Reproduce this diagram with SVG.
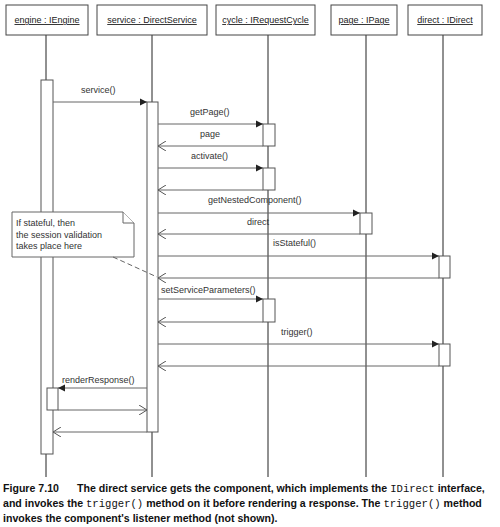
<svg xmlns="http://www.w3.org/2000/svg" width="500" height="527" viewBox="0 0 500 527">
<defs>
<style>
.hdr{fill:#fff;stroke:#444;stroke-width:1}
.ht{font-family:"Liberation Sans",Arial,sans-serif;font-size:9px;fill:#222;text-decoration:underline;text-anchor:middle}
.life{stroke:#222;stroke-width:1}
.act{fill:#fff;stroke:#555;stroke-width:1}
.msg{stroke:#666;stroke-width:1;fill:none}
.lbl{font-family:"Liberation Sans",Arial,sans-serif;font-size:9px;fill:#333}
.note{fill:#fff;stroke:#666;stroke-width:1}
.cap{font-family:"Liberation Sans",Arial,sans-serif;font-size:10.6px;font-weight:bold;fill:#111}
.mono{font-family:"Liberation Mono","Courier New",monospace;font-weight:normal}
</style>
<marker id="fill" markerUnits="userSpaceOnUse" markerWidth="8" markerHeight="8" refX="7" refY="4" orient="auto">
<path d="M0,0.5 L7,4 L0,7.5 Z" fill="#222"/>
</marker>
<marker id="open" markerUnits="userSpaceOnUse" markerWidth="9" markerHeight="10" refX="8" refY="5" orient="auto">
<path d="M0,0 L8,5 L0,10" fill="none" stroke="#555" stroke-width="1"/>
</marker>
</defs>
<rect width="500" height="527" fill="#fff"/>

<g id="lifelines">
<line class="life" x1="46" y1="35" x2="46" y2="477"/>
<line class="life" x1="152" y1="35" x2="152" y2="477" stroke="#666"/>
<line class="life" x1="268" y1="35" x2="268" y2="477"/>
<line class="life" x1="366" y1="35" x2="366" y2="477"/>
<line class="life" x1="443" y1="35" x2="443" y2="477"/>
</g>

<g id="engine">
<rect class="hdr" x="6" y="5" width="82" height="30"/>
<text class="ht" x="47" y="23">engine : IEngine</text>
<rect class="act" x="41" y="80" width="12" height="374"/>
<rect class="act" x="47" y="388" width="11" height="22"/>
</g>
<g id="service">
<rect class="hdr" x="97" y="5" width="110" height="30"/>
<text class="ht" x="152" y="23">service : DirectService</text>
<rect class="act" x="147" y="102" width="11" height="330"/>
</g>
<g id="cycle">
<rect class="hdr" x="216" y="5" width="99" height="30"/>
<text class="ht" x="265.5" y="23">cycle : IRequestCycle</text>
<rect class="act" x="263" y="124" width="12" height="22"/>
<rect class="act" x="263" y="168" width="12" height="22"/>
<rect class="act" x="263" y="299" width="12" height="23"/>
</g>
<g id="page">
<rect class="hdr" x="331" y="5" width="66" height="30"/>
<text class="ht" x="364" y="23">page : IPage</text>
<rect class="act" x="360" y="213" width="12" height="21"/>
</g>
<g id="direct">
<rect class="hdr" x="408" y="5" width="74" height="30"/>
<text class="ht" x="445" y="23">direct : IDirect</text>
<rect class="act" x="439" y="256" width="11" height="22"/>
<rect class="act" x="439" y="344" width="11" height="22"/>
</g>

<g id="note">
<path class="note" d="M12,212 H123 L134,223 V257 H12 Z"/>
<path class="note" d="M123,212 V223 H134" fill="none"/>
<text class="lbl" x="16" y="226">If stateful, then</text>
<text class="lbl" x="16" y="238">the session validation</text>
<text class="lbl" x="16" y="249">takes place here</text>
</g>

<g id="connectors">
<line class="msg" x1="53" y1="102" x2="147" y2="102" marker-end="url(#fill)"/>
<line class="msg" x1="158" y1="124" x2="263" y2="124" marker-end="url(#fill)"/>
<line class="msg" x1="263" y1="146" x2="158" y2="146" marker-end="url(#open)"/>
<line class="msg" x1="158" y1="168" x2="263" y2="168" marker-end="url(#fill)"/>
<line class="msg" x1="263" y1="190" x2="158" y2="190" marker-end="url(#open)"/>
<line class="msg" x1="158" y1="213" x2="360" y2="213" marker-end="url(#fill)"/>
<line class="msg" x1="360" y1="234" x2="158" y2="234" marker-end="url(#open)"/>
<line class="msg" x1="158" y1="256" x2="439" y2="256" marker-end="url(#fill)"/>
<line class="msg" x1="439" y1="278" x2="158" y2="278" marker-end="url(#open)"/>
<line class="msg" x1="158" y1="299" x2="263" y2="299" marker-end="url(#fill)"/>
<line class="msg" x1="263" y1="322" x2="158" y2="322" marker-end="url(#open)"/>
<line class="msg" x1="158" y1="344" x2="439" y2="344" marker-end="url(#fill)"/>
<line class="msg" x1="439" y1="366" x2="158" y2="366" marker-end="url(#open)"/>
<line class="msg" x1="147" y1="388" x2="58" y2="388" marker-end="url(#fill)"/>
<line class="msg" x1="58" y1="410" x2="147" y2="410" marker-end="url(#open)"/>
<line class="msg" x1="147" y1="432" x2="53" y2="432" marker-end="url(#open)"/>
<line class="msg" x1="113" y1="257" x2="157" y2="277" stroke-dasharray="5,3"/>
</g>

<g id="labels">
<text class="lbl" x="81" y="93">service()</text>
<text class="lbl" x="190" y="115">getPage()</text>
<text class="lbl" x="200" y="137">page</text>
<text class="lbl" x="191" y="159">activate()</text>
<text class="lbl" x="208" y="203">getNestedComponent()</text>
<text class="lbl" x="247" y="225">direct</text>
<text class="lbl" x="273" y="246">isStateful()</text>
<text class="lbl" x="161" y="293">setServiceParameters()</text>
<text class="lbl" x="281" y="335">trigger()</text>
<text class="lbl" x="62" y="383">renderResponse()</text>
</g>

<g id="caption">
<text class="cap" x="3" y="492">Figure 7.10<tspan x="77">The direct service gets the component, which implements the </tspan><tspan class="mono">IDirect</tspan> interface,</text>
<text class="cap" x="3" y="507">and invokes the <tspan class="mono">trigger()</tspan> method on it before rendering a response. The <tspan class="mono">trigger()</tspan> method</text>
<text class="cap" x="3" y="522">invokes the component's listener method (not shown).</text>
</g>
</svg>
